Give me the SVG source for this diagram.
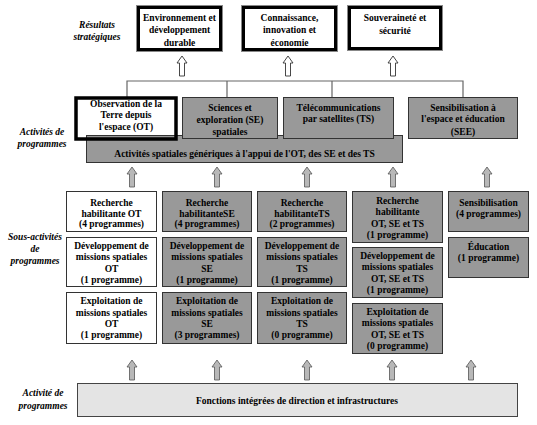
<svg xmlns="http://www.w3.org/2000/svg" width="537" height="425" viewBox="0 0 537 425" font-family="'Liberation Serif', 'DejaVu Serif', serif">
<style>
text{font-family:'Liberation Serif','DejaVu Serif',serif;font-size:9.5px;font-weight:bold;fill:#000;text-anchor:middle}
.lab{font-style:italic}
.g{fill:#999;stroke:#333;stroke-width:1}
.w{fill:#fff;stroke:#333;stroke-width:1}
.res{fill:#fff;stroke:#000;stroke-width:3}
.resout{fill:none;stroke:#888;stroke-width:1}
.line{fill:none;stroke:#666;stroke-width:1.2}
.ga{fill:#b8b8b8;stroke:#555;stroke-width:0.8}
.ha{fill:#fff;stroke:#333;stroke-width:0.9}
</style>
<defs>
<path id="arr" d="M0,0 L5,7 L2.5,7 L2.5,20 L-2.5,20 L-2.5,7 L-5,7 Z"/>
</defs>
<rect width="537" height="425" fill="#fff"/>

<g id="labels">
<text class="lab" x="97" y="28">Résultats</text>
<text class="lab" x="97" y="40">stratégiques</text>
<text class="lab" x="42" y="135">Activités de</text>
<text class="lab" x="42" y="147">programmes</text>
<text class="lab" x="35" y="240">Sous-activités</text>
<text class="lab" x="35" y="252">de</text>
<text class="lab" x="35" y="264">programmes</text>
<text class="lab" x="43" y="396">Activité de</text>
<text class="lab" x="43" y="409">programmes</text>
</g>

<g id="res-env">
<rect class="resout" x="136.5" y="5.5" width="86" height="46"/>
<rect class="res" x="138.5" y="7.5" width="82" height="42"/>
<text x="179.5" y="20.5">Environnement et</text>
<text x="179.5" y="33">développement</text>
<text x="179.5" y="45.5">durable</text>
</g>
<g id="res-con">
<rect class="resout" x="241.5" y="5.5" width="96" height="46"/>
<rect class="res" x="243.5" y="7.5" width="92" height="42"/>
<text x="289.5" y="20.5">Connaissance,</text>
<text x="289.5" y="33">innovation et</text>
<text x="289.5" y="45.5">économie</text>
</g>
<g id="res-sou">
<rect class="resout" x="347.5" y="5.5" width="95" height="45"/>
<rect class="res" x="349.5" y="7.5" width="91" height="41"/>
<text x="395" y="20.5">Souveraineté et</text>
<text x="395" y="33.5">sécurité</text>
</g>

<g id="connectors">
<path class="line" d="M127,97 V81 H463 V97 M227,81 V97 M332,81 V97"/>
<use href="#arr" class="ha" x="182" y="56"/>
<use href="#arr" class="ha" x="288" y="56"/>
<use href="#arr" class="ha" x="393" y="56"/>
<use href="#arr" class="ga" x="132" y="167"/>
<use href="#arr" class="ga" x="217" y="167"/>
<use href="#arr" class="ga" x="307" y="167"/>
<use href="#arr" class="ga" x="393" y="167"/>
<use href="#arr" class="ga" x="487" y="167"/>
<use href="#arr" class="ga" x="132" y="360"/>
<use href="#arr" class="ga" x="217" y="360"/>
<use href="#arr" class="ga" x="307" y="360"/>
<use href="#arr" class="ga" x="392" y="360"/>
<use href="#arr" class="ga" x="471" y="360"/>
</g>

<g id="act-ot-fill">
<rect x="76" y="98" width="100" height="41" fill="#fff"/>
</g>
<g id="act-generic">
<rect class="g" x="86.5" y="135.5" width="316" height="27"/>
<text x="244.5" y="156.5">Activités spatiales génériques à l'appui de l'OT, des SE et des TS</text>
</g>
<g id="act-ot">
<rect x="76" y="98" width="100" height="41" fill="none" stroke="#000" stroke-width="3.5"/>
<text x="126" y="106.5">Observation de la</text>
<text x="126" y="117.5">Terre depuis</text>
<text x="126" y="129.5">l'espace (OT)</text>
</g>
<g id="act-se">
<rect class="g" x="182.5" y="97.5" width="95" height="41"/>
<text x="230" y="110.5">Sciences et</text>
<text x="230" y="122.5">exploration (SE)</text>
<text x="230" y="134.5">spatiales</text>
</g>
<g id="act-ts">
<rect class="g" x="283.5" y="97.5" width="110" height="41"/>
<text x="338.5" y="110.5">Télécommunications</text>
<text x="338.5" y="121.5">par satellites (TS)</text>
</g>
<g id="act-see">
<rect class="g" x="408.5" y="97.5" width="109" height="41"/>
<text x="463" y="110.5">Sensibilisation à</text>
<text x="463" y="121.5">l'espace et éducation</text>
<text x="463" y="134.5">(SEE)</text>
</g>

<g id="rh-ot">
<rect class="w" x="66.5" y="191.5" width="90" height="40"/>
<text x="111.5" y="205.5">Recherche</text>
<text x="111.5" y="216.5">habilitante OT</text>
<text x="111.5" y="227">(4 programmes)</text>
</g>
<g id="dev-ot">
<rect class="w" x="66.5" y="237.5" width="90" height="49"/>
<text x="111.5" y="249">Développement de</text>
<text x="111.5" y="260.3">missions spatiales</text>
<text x="111.5" y="271.6">OT</text>
<text x="111.5" y="283">(1 programme)</text>
</g>
<g id="exp-ot">
<rect class="w" x="66.5" y="292.5" width="90" height="51"/>
<text x="111.5" y="304.3">Exploitation de</text>
<text x="111.5" y="315.6">missions spatiales</text>
<text x="111.5" y="327">OT</text>
<text x="111.5" y="338.3">(1 programme)</text>
</g>

<g id="rh-se">
<rect class="g" x="162.5" y="191.5" width="89" height="40"/>
<text x="207" y="205.5">Recherche</text>
<text x="207" y="216.5">habilitanteSE</text>
<text x="207" y="227">(4 programmes)</text>
</g>
<g id="dev-se">
<rect class="g" x="162.5" y="237.5" width="89" height="49"/>
<text x="207" y="249">Développement de</text>
<text x="207" y="260.3">missions spatiales</text>
<text x="207" y="271.6">SE</text>
<text x="207" y="283">(1 programme)</text>
</g>
<g id="exp-se">
<rect class="g" x="162.5" y="292.5" width="89" height="51"/>
<text x="207" y="304.3">Exploitation de</text>
<text x="207" y="315.6">missions spatiales</text>
<text x="207" y="327">SE</text>
<text x="207" y="338.3">(3 programmes)</text>
</g>

<g id="rh-ts">
<rect class="g" x="257.5" y="191.5" width="89" height="40"/>
<text x="302" y="205.5">Recherche</text>
<text x="302" y="216.5">habilitanteTS</text>
<text x="302" y="227">(2 programmes)</text>
</g>
<g id="dev-ts">
<rect class="g" x="257.5" y="237.5" width="89" height="49"/>
<text x="302" y="249">Développement de</text>
<text x="302" y="260.3">missions spatiales</text>
<text x="302" y="271.6">TS</text>
<text x="302" y="283">(1 programme)</text>
</g>
<g id="exp-ts">
<rect class="g" x="257.5" y="292.5" width="89" height="51"/>
<text x="302" y="304.3">Exploitation de</text>
<text x="302" y="315.6">missions spatiales</text>
<text x="302" y="327">TS</text>
<text x="302" y="338.3">(0 programme)</text>
</g>

<g id="rh-all">
<rect class="g" x="352.5" y="191.5" width="90" height="51"/>
<text x="397.5" y="204">Recherche</text>
<text x="397.5" y="215.3">habilitante</text>
<text x="397.5" y="226.6">OT, SE et TS</text>
<text x="397.5" y="238">(1 programme)</text>
</g>
<g id="dev-all">
<rect class="g" x="352.5" y="247.5" width="90" height="50"/>
<text x="397.5" y="259">Développement de</text>
<text x="397.5" y="270.3">missions spatiales</text>
<text x="397.5" y="281.6">OT, SE et TS</text>
<text x="397.5" y="293">(1 programme)</text>
</g>
<g id="exp-all">
<rect class="g" x="352.5" y="303.5" width="90" height="50"/>
<text x="397.5" y="315">Exploitation de</text>
<text x="397.5" y="326.3">missions spatiales</text>
<text x="397.5" y="337.6">OT, SE et TS</text>
<text x="397.5" y="349">(0 programme)</text>
</g>

<g id="sens">
<rect class="g" x="448.5" y="191.5" width="80" height="40"/>
<text x="488.5" y="205.5">Sensibilisation</text>
<text x="488.5" y="216.5">(4 programmes)</text>
</g>
<g id="educ">
<rect class="g" x="448.5" y="237.5" width="80" height="40"/>
<text x="488.5" y="249.5">Éducation</text>
<text x="488.5" y="260.5">(1 programme)</text>
</g>

<g id="fonctions">
<rect x="77.5" y="383.5" width="440" height="33" fill="#e4e4e4" stroke="#444" stroke-width="1"/>
<text x="297" y="403.5">Fonctions intégrées de direction et infrastructures</text>
</g>
</svg>
